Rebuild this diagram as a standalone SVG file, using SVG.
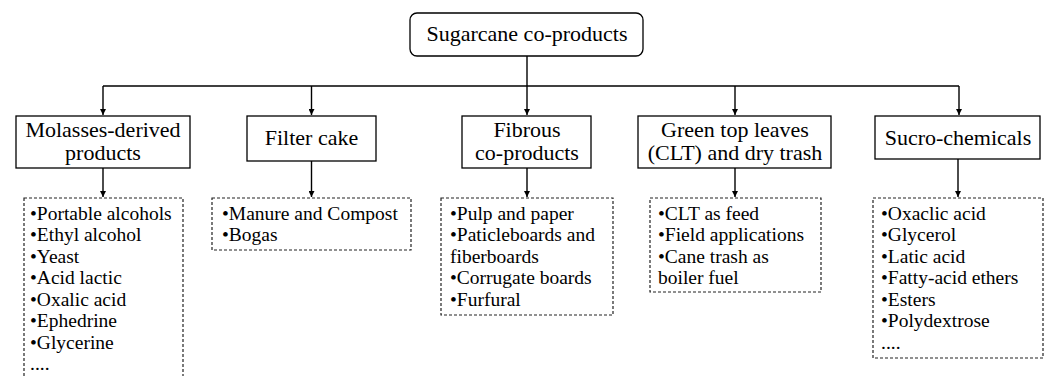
<svg xmlns="http://www.w3.org/2000/svg" width="1046" height="376" viewBox="0 0 1046 376">
<defs>
<marker id="ah" viewBox="0 0 10 10" refX="10" refY="5" markerWidth="6" markerHeight="6" markerUnits="userSpaceOnUse" orient="auto">
<path d="M0,0 L10,5 L0,10 z" fill="#000"/>
</marker>
<style>
.t{font-family:"Liberation Serif","Times New Roman",serif;fill:#000}
.h{font-size:22px;text-anchor:middle}
.l{font-size:19.5px}
.box{fill:#fff;stroke:#000;stroke-width:1.3}
.dbox{fill:#fff;stroke:#222;stroke-width:1.2;stroke-dasharray:3 2}
.c{fill:none;stroke:#000;stroke-width:1.4}
</style>
</defs>
<rect width="1046" height="376" fill="#fff"/>
<g id="connectors">
<path class="c" d="M527,56 V115" marker-end="url(#ah)"/>
<path class="c" d="M103,86 H959"/>
<path class="c" d="M103,86 V115" marker-end="url(#ah)"/>
<path class="c" d="M311.5,86 V115" marker-end="url(#ah)"/>
<path class="c" d="M735,86 V115" marker-end="url(#ah)"/>
<path class="c" d="M959,86 V115" marker-end="url(#ah)"/>
<path class="c" d="M103,168 V197" marker-end="url(#ah)"/>
<path class="c" d="M311.5,161 V197" marker-end="url(#ah)"/>
<path class="c" d="M527,168 V197" marker-end="url(#ah)"/>
<path class="c" d="M735,168 V197" marker-end="url(#ah)"/>
<path class="c" d="M958,159 V197" marker-end="url(#ah)"/>
</g>
<g id="root">
<rect class="box" x="410" y="13" width="233" height="43" rx="7"/>
<text class="t h" x="527" y="41">Sugarcane co-products</text>
</g>
<g id="molasses">
<rect class="box" x="16" y="116" width="174" height="52"/>
<text class="t h" x="103" y="137">Molasses-derived</text>
<text class="t h" x="103" y="160">products</text>
</g>
<g id="filter">
<rect class="box" x="247" y="116" width="129" height="45"/>
<text class="t h" x="311.5" y="145">Filter cake</text>
</g>
<g id="fibrous">
<rect class="box" x="462" y="116" width="129" height="52"/>
<text class="t h" x="527" y="137">Fibrous</text>
<text class="t h" x="527" y="160">co-products</text>
</g>
<g id="green">
<rect class="box" x="638" y="116" width="193" height="52"/>
<text class="t h" x="735" y="137">Green top leaves</text>
<text class="t h" x="735" y="160">(CLT) and dry trash</text>
</g>
<g id="sucro">
<rect class="box" x="875" y="116" width="165" height="43"/>
<text class="t h" x="958" y="145">Sucro-chemicals</text>
</g>
<g id="molasses-list">
<rect class="dbox" x="24" y="198" width="159" height="190"/>
<text class="t l" x="30" y="219.5">•Portable alcohols</text>
<text class="t l" x="30" y="241">•Ethyl alcohol</text>
<text class="t l" x="30" y="262.5">•Yeast</text>
<text class="t l" x="30" y="284">•Acid lactic</text>
<text class="t l" x="30" y="305.5">•Oxalic acid</text>
<text class="t l" x="30" y="327">•Ephedrine</text>
<text class="t l" x="30" y="348.5">•Glycerine</text>
<text class="t l" x="30" y="370">....</text>
</g>
<g id="filter-list">
<rect class="dbox" x="212" y="198" width="199" height="52"/>
<text class="t l" x="222" y="219.5">•Manure and Compost</text>
<text class="t l" x="222" y="241">•Bogas</text>
</g>
<g id="fibrous-list">
<rect class="dbox" x="441" y="198" width="172" height="117"/>
<text class="t l" x="450" y="219.5">•Pulp and paper</text>
<text class="t l" x="450" y="241">•Paticleboards and</text>
<text class="t l" x="450" y="262.5">fiberboards</text>
<text class="t l" x="450" y="284">•Corrugate boards</text>
<text class="t l" x="450" y="305.5">•Furfural</text>
</g>
<g id="green-list">
<rect class="dbox" x="650" y="198" width="171" height="94"/>
<text class="t l" x="658" y="219.5">•CLT as feed</text>
<text class="t l" x="658" y="241">•Field applications</text>
<text class="t l" x="658" y="262.5">•Cane trash as</text>
<text class="t l" x="658" y="284">boiler fuel</text>
</g>
<g id="sucro-list">
<rect class="dbox" x="873" y="198" width="170" height="160"/>
<text class="t l" x="881" y="219.5">•Oxaclic acid</text>
<text class="t l" x="881" y="241">•Glycerol</text>
<text class="t l" x="881" y="262.5">•Latic acid</text>
<text class="t l" x="881" y="284">•Fatty-acid ethers</text>
<text class="t l" x="881" y="305.5">•Esters</text>
<text class="t l" x="881" y="327">•Polydextrose</text>
<text class="t l" x="881" y="348.5">....</text>
</g>
</svg>
